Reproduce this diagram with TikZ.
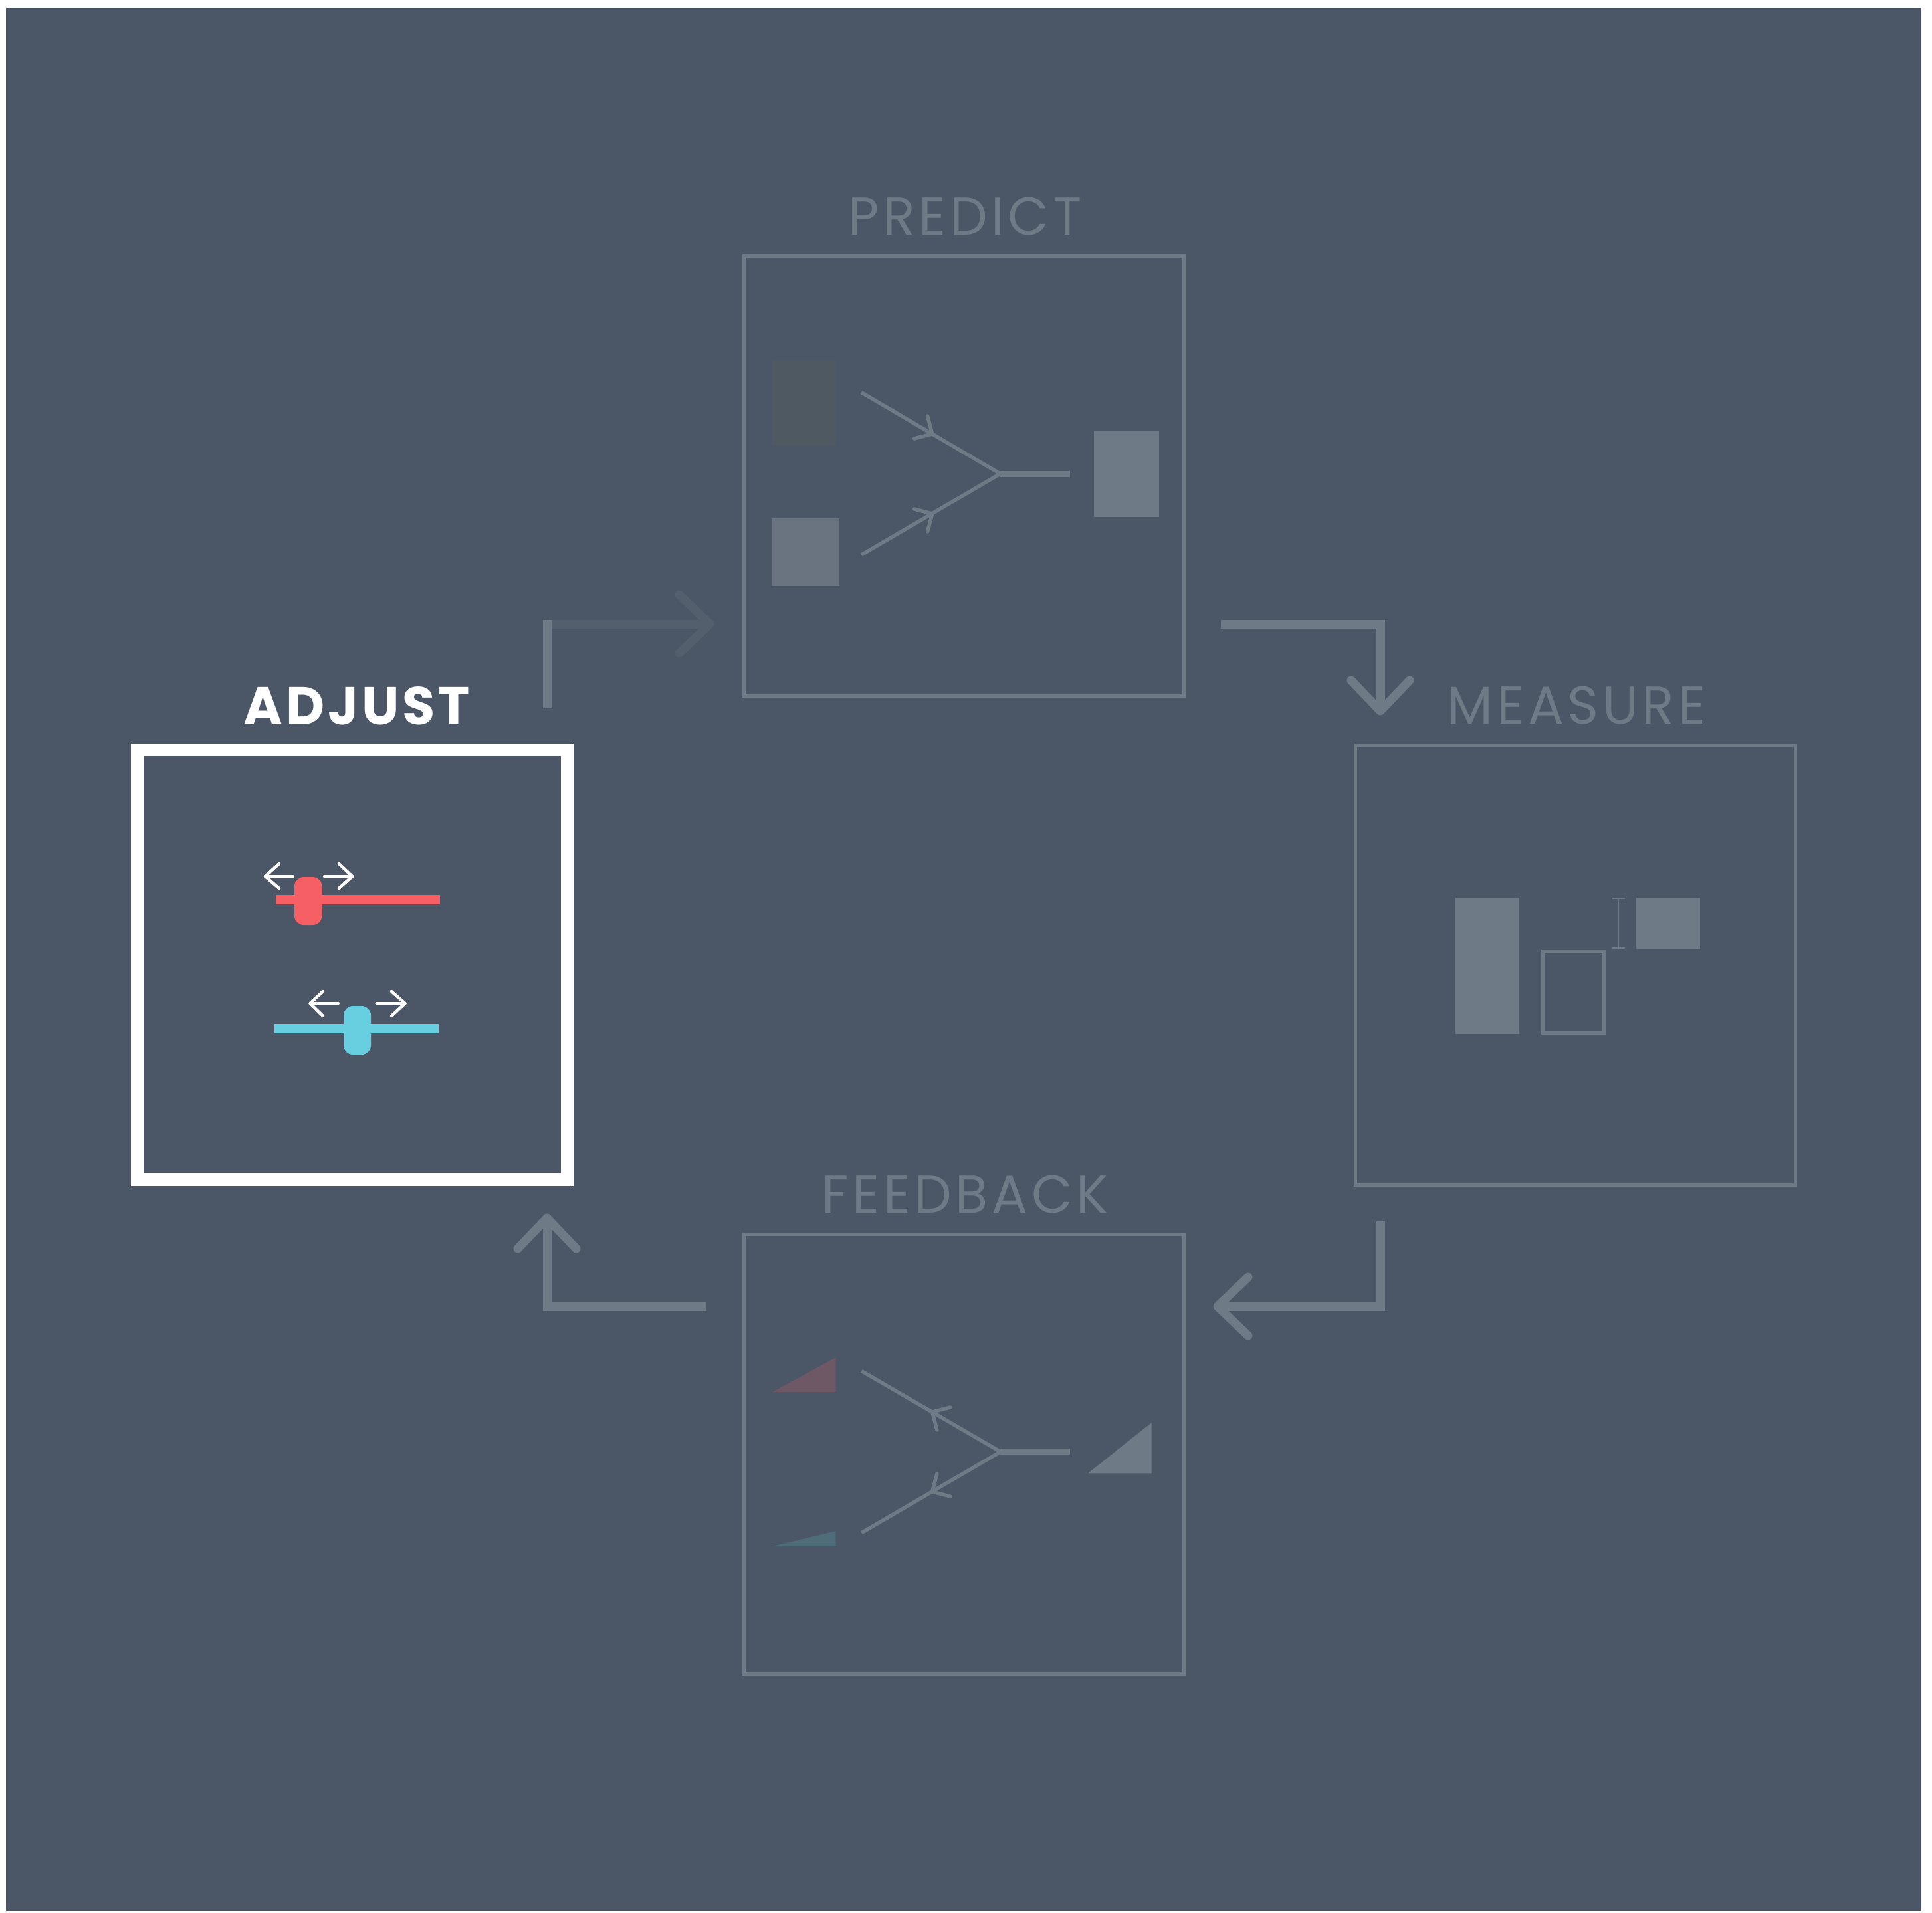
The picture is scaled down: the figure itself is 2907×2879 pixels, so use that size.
\documentclass[tikz,border=0pt]{standalone}
\usepackage{fontspec}
\setmainfont{Poppins}
\newfontfamily\labelfont[LetterSpace=7]{Poppins}
\newfontfamily\activefont[LetterSpace=6]{Poppins}
\usetikzlibrary{calc}

\definecolor{bg}{HTML}{4B5766}
\definecolor{mute}{HTML}{6E7A86}
\definecolor{mutedark}{HTML}{6A7480}
\definecolor{ghost}{HTML}{4F5962}
\definecolor{fadeline}{HTML}{535F6C}
\definecolor{redtri}{HTML}{6E5866}
\definecolor{cyantri}{HTML}{4E6C7A}
\definecolor{slred}{HTML}{F65F63}
\definecolor{slcyan}{HTML}{67CFE0}

\begin{document}
\begin{tikzpicture}[x=1pt,y=-1pt,
  stagebox/.style={rectangle, draw=mute, line width=5, minimum size=662, inner sep=0},
  activebox/.style={rectangle, draw=white, line width=19.5, minimum size=647, inner sep=0},
  stagelabel/.style={anchor=base, inner sep=0, text=mute, font=\labelfont\fontsize{80}{90}\selectfont},
  activelabel/.style={anchor=base, inner sep=0, text=white, font=\activefont\bfseries\fontsize{80}{90}\selectfont},
  flow/.style={draw=mute, line width=13, line cap=butt, line join=miter},
  chevron/.style={draw=mute, line width=13, line cap=round, line join=round},
  glyphline/.style={draw=mute, line width=5.5, line cap=butt, line join=miter},
  tinyhead/.style={draw=mute, line width=5.5, line cap=round, line join=round},
  sliderarrow/.style={draw=white, line width=4.5, line cap=round, line join=round}]

% canvas
\useasboundingbox (0,0) rectangle (2907,2879);
\fill[white] (0,0) rectangle (2907,2879);
\fill[bg] (9,12) rectangle (2891,2876);

% stage frames
\node[stagebox] (predict) at (1450,716) {};
\node[stagebox] (measure) at (2370.3,1452) {};
\node[stagebox] (feedback) at (1450,2188) {};
\node[activebox] (adjust) at (530,1452) {};

% stage titles
\node[stagelabel] (predictlbl) at (1452,353) {PREDICT};
\node[stagelabel] (measurelbl) at (2372,1089) {MEASURE};
\node[stagelabel] (feedbacklbl) at (1452,1825) {FEEDBACK};
\node[activelabel] (adjustlbl) at (537,1090) {ADJUST};

% flow arrows between stages
\coordinate (f1a) at (823,1066);
\coordinate (f1b) at (823,932.5);
\coordinate (f1c) at (829.5,939);
\coordinate (f1tip) at (1068,939);
\draw[flow] (f1a) -- (f1b);
\draw[flow, draw=fadeline] (f1c) -- (f1tip);
\draw[chevron, draw=fadeline] ($(f1tip)+(-46,-44)$) -- (f1tip) -- ($(f1tip)+(-46,44)$);

\coordinate (f2a) at (1837,939);
\coordinate (f2tip) at (2077,1070);
\draw[flow] (f2a) -| (f2tip);
\draw[chevron] ($(f2tip)+(-44,-46)$) -- (f2tip) -- ($(f2tip)+(44,-46)$);

\coordinate (f3a) at (2077,1838);
\coordinate (f3tip) at (1832,1966);
\draw[flow] (f3a) |- (f3tip);
\draw[chevron] ($(f3tip)+(46,-44)$) -- (f3tip) -- ($(f3tip)+(46,44)$);

\coordinate (f4a) at (1063,1966);
\coordinate (f4tip) at (823,1833);
\draw[flow] (f4a) -| (f4tip);
\draw[chevron] ($(f4tip)+(-44,46)$) -- (f4tip) -- ($(f4tip)+(44,46)$);

% predict: two inputs merge into one output
\fill[ghost] (1161.6,543) rectangle (1257.6,670);
\fill[mutedark] (1161.6,780) rectangle (1263.4,882);
\fill[mute] (1646,649) rectangle (1744,778);
\coordinate (pj) at (1505,713);
\coordinate (pin1) at (1296,590.5);
\coordinate (pin2) at (1296,835);
\coordinate (pout) at (1610,713);
\draw[glyphline] (pin1) -- (pj) -- (pin2);
\draw[glyphline, line width=9] (pj) -- (pout);
\draw[tinyhead] (1375.6,660) -- (1402.7,653) -- (1395.6,626);
\draw[tinyhead] (1375.6,766) -- (1402.7,773) -- (1395.6,800);

% measure: actual vs expected with a gap marker
\fill[mute] (2189,1350.5) rectangle (2285,1556);
\draw[mute, line width=5] (2321.5,1431) rectangle (2413.5,1554.5);
\draw[mute, line width=2.5] (2435,1352) -- (2435,1426.5)
  (2425.5,1352) -- (2445,1352) (2425.5,1426.5) -- (2445,1426.5);
\fill[mute] (2461,1350.5) rectangle (2557.7,1428);

% feedback: error flows back to the inputs
\fill[redtri] (1162.5,2095) -- (1257.6,2043) -- (1257.6,2095) -- cycle;
\fill[cyantri] (1162.5,2327) -- (1257.6,2304) -- (1257.6,2327) -- cycle;
\fill[mute] (1637,2217.4) -- (1732.6,2141) -- (1732.6,2217.4) -- cycle;
\coordinate (fj) at (1505.4,2184.8);
\coordinate (fin1) at (1296.4,2063.4);
\coordinate (fin2) at (1296.4,2306.7);
\coordinate (fout) at (1610,2184.8);
\draw[glyphline] (fin1) -- (fj) -- (fin2);
\draw[glyphline, line width=9] (fj) -- (fout);
\draw[tinyhead] (1429.8,2118) -- (1402.7,2125) -- (1409.9,2152);
\draw[tinyhead] (1409.8,2218) -- (1402.7,2245) -- (1429.8,2252);

% adjust: two sliders
\fill[slred] (415,1347) rectangle (662,1361);
\fill[slred, rounded corners=14] (443,1320) rectangle (484.5,1392);
\draw[sliderarrow] (441,1319) -- (399,1319);
\draw[sliderarrow] (420,1300) -- (399,1319) -- (420,1337);
\draw[sliderarrow] (488,1319) -- (530,1319);
\draw[sliderarrow] (510,1300) -- (530,1319) -- (510,1337);

\fill[slcyan] (413,1541) rectangle (660,1555);
\fill[slcyan, rounded corners=14] (517,1514) rectangle (558,1587);
\draw[sliderarrow] (509,1510) -- (466.6,1510);
\draw[sliderarrow] (486,1492) -- (466.6,1510) -- (486,1529);
\draw[sliderarrow] (566.6,1510) -- (609.5,1510);
\draw[sliderarrow] (589,1492) -- (609.5,1510) -- (589,1529);
\end{tikzpicture}
\end{document}
